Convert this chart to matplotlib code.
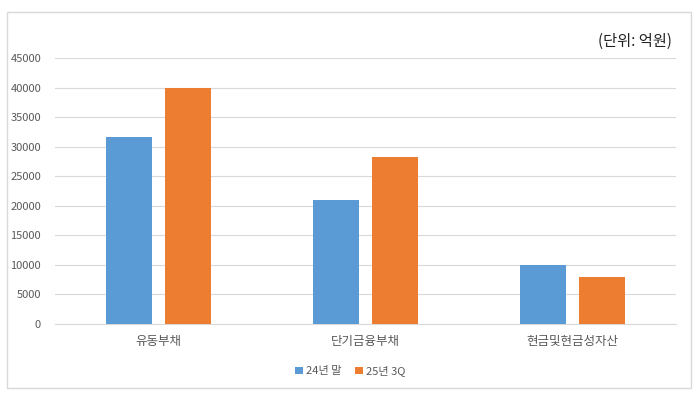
import numpy as np
import matplotlib
matplotlib.use("Agg")
import matplotlib.pyplot as plt
from matplotlib.patches import Rectangle

plt.rcParams['font.family'] = ['Noto Sans CJK KR', 'DejaVu Sans']

categories = ['유동부채', '단기금융부채', '현금및현금성자산']
series_names = ['24년 말', '25년 3Q']
values_24 = [31700, 20900, 9900]
values_25 = [40000, 28300, 8000]
yticks = [0, 5000, 10000, 15000, 20000, 25000, 30000, 35000, 40000, 45000]

BLUE = '#5B9BD5'
ORANGE = '#ED7D31'
GRID = '#D9D9D9'
TEXT = '#595959'

fig = plt.figure(figsize=(7.0, 3.96), dpi=100)
ax = fig.add_axes([55 / 700, 72 / 396, 621 / 700, 266 / 396])

# outer chart border
fig.patches.append(Rectangle((7 / 700, 8 / 396), 684 / 700, 376 / 396,
                             transform=fig.transFigure, fill=False,
                             edgecolor='#D9D9D9', linewidth=1))

x = np.arange(len(categories))
w = 0.222
gap = 0.063
ax.bar(x - (w + gap) / 2, values_24, w, color=BLUE, label=series_names[0], zorder=3)
ax.bar(x + (w + gap) / 2, values_25, w, color=ORANGE, label=series_names[1], zorder=3)

ax.set_xlim(-0.5, len(categories) - 0.5)
ax.set_ylim(0, 45000)
ax.set_yticks(yticks)
ax.set_yticklabels([str(v) for v in yticks])
ax.set_xticks(x)
ax.set_xticklabels(categories)
ax.yaxis.grid(True, color=GRID, linewidth=0.8, zorder=0)
ax.set_axisbelow(True)
for s in ['top', 'right', 'left']:
    ax.spines[s].set_visible(False)
ax.spines['bottom'].set_color(GRID)
ax.tick_params(axis='y', length=0, labelsize=8, labelcolor=TEXT, pad=10)
ax.tick_params(axis='x', length=0, labelsize=9, labelcolor=TEXT, pad=8)

fig.text(672 / 700, 1 - 41 / 396, '(단위: 억원)', ha='right', va='center',
         fontsize=11, color='#222222')

ax.legend(loc='center', bbox_to_anchor=(350 / 700, 1 - 371 / 396),
          bbox_transform=fig.transFigure, ncol=2, frameon=False,
          fontsize=8, labelcolor=TEXT, handlelength=0.7, handleheight=0.7,
          handletextpad=0.3, columnspacing=1.2)

fig.savefig('out.png', dpi=100)
